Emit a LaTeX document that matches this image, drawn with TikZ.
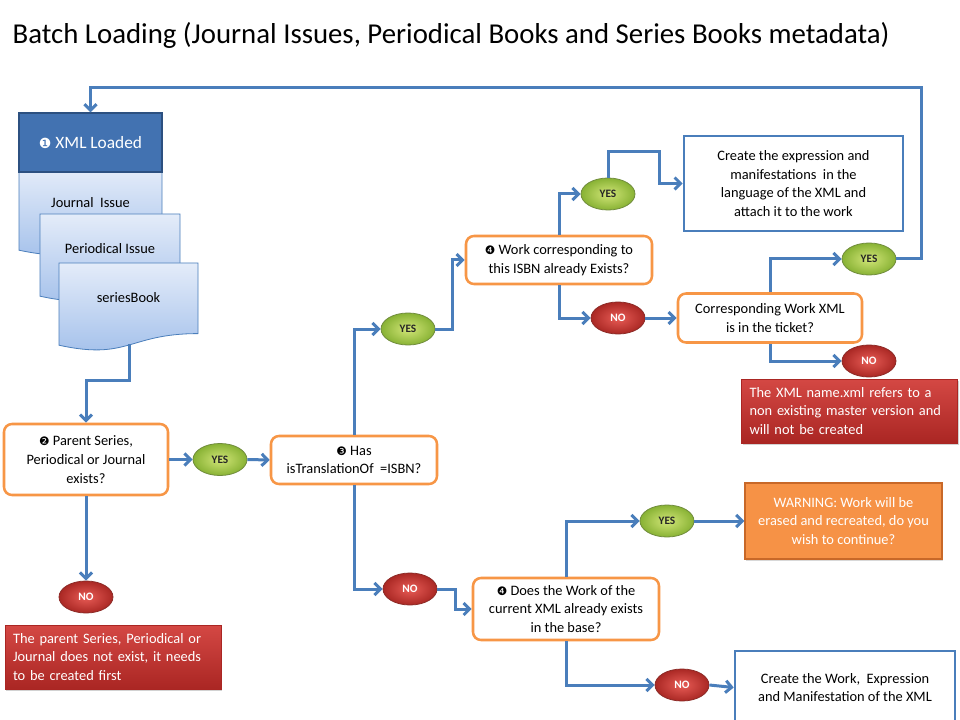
\documentclass[tikz,border=0pt]{standalone}
\usepackage{fontspec}
\setmainfont{Carlito}
\newfontfamily\dingfont{DejaVu Sans}
\usetikzlibrary{arrows.meta,shapes.geometric,shadows}
\definecolor{flowblue}{RGB}{74,126,187}
\definecolor{boxorange}{RGB}{247,150,70}
\definecolor{warnfill}{RGB}{246,146,70}
\definecolor{warnedge}{RGB}{200,104,40}
\definecolor{hdrfill}{RGB}{66,114,177}
\definecolor{hdredge}{RGB}{44,80,128}
\definecolor{doctop}{RGB}{228,236,249}
\definecolor{docbot}{RGB}{160,190,234}
\definecolor{yesin}{RGB}{210,230,120}
\definecolor{yesout}{RGB}{136,178,52}
\definecolor{yesedge}{RGB}{112,140,60}
\definecolor{noin}{RGB}{232,92,86}
\definecolor{noout}{RGB}{170,40,36}
\definecolor{noedge}{RGB}{140,42,38}
\definecolor{errtop}{RGB}{212,72,68}
\definecolor{errbot}{RGB}{170,38,35}
\newcommand\dingnum[1]{{\dingfont\fontsize{8.8}{10}\selectfont#1}}

\begin{document}
\begin{tikzpicture}[x=0.75pt, y=-0.75pt, >={Straight Barb[length=4.5pt,width=9pt]},
    flow/.style={->, flowblue, line width=2.25pt},
    txt/.style={font=\fontsize{10.8}{14}\selectfont},
    decision/.style={txt, draw=boxorange, line width=1.9pt, rounded corners=6pt, fill=white, align=center, inner sep=0pt},
    action/.style={txt, draw=flowblue, line width=1.9pt, fill=white, align=center, inner sep=0pt},
    yesball/.style={ellipse, draw=yesedge, line width=0.6pt, inner color=yesin, outer color=yesout, minimum width=40.5pt, minimum height=24pt, inner sep=0pt, font=\fontsize{8.5}{10}\selectfont\bfseries, text=black!85},
    noball/.style={yesball, draw=noedge, inner color=noin, outer color=noout, text=white},
    errbox/.style={txt, top color=errtop, bottom color=errbot, draw=errbot, text=white, align=left, text width=150pt, inner xsep=6pt, minimum height=48pt, drop shadow={opacity=0.35, shadow xshift=1pt, shadow yshift=-1.5pt}}]
    \useasboundingbox (0,0) rectangle (960,720);
    \clip (0,0) rectangle (960,720);
    \fill[white] (0,0) rectangle (960,720);
    \node[anchor=west, font=\fontsize{21.6}{25}\selectfont] (title) at (8,35) {Batch Loading (Journal Issues, Periodical Books and Series Books metadata)};

    \foreach \l/\t/\r/\i/\name in {19/168/162/1/Journal\ \ Issue, 40/214/180/2/Periodical Issue, 59/263/198/3/seriesBook} {
        \draw[flowblue, line width=0.6pt, top color=doctop, bottom color=docbot]
            (\l,\t) -- (\r,\t) -- (\r,\t+70.6) .. controls ({(\l+\r)/2},\t+70.6) and ({(\l+\r)/2},\t+97.5) .. (\l,\t+82.2) -- cycle;
        \node[txt] (doc\i) at ({(\l+\r)/2},\t+35) {\name};
    }
    \node[fill=hdrfill, draw=hdredge, line width=1pt, minimum width=107.25pt, minimum height=44.25pt, text=white, font=\fontsize{13}{15}\selectfont] (xml) at (90.5,142.5) {{\dingfont\fontsize{10.5}{12}\selectfont ❶} XML Loaded};
    \coordinate (sbout) at (129,344);

    \node[decision, minimum width=123pt, minimum height=53.25pt] (par) at (86,459.5) {\dingnum{❷} Parent Series,\\ Periodical or Journal\\ exists?};
    \node[yesball] (yes1) at (220,459.5) {YES};
    \node[decision, minimum width=124.5pt, minimum height=36pt] (trans) at (354,460) {\dingnum{❸} Has\\ isTranslationOf\ \ =ISBN?};
    \node[noball] (no1) at (86,597) {NO};
    \node[errbox] (errpar) at (113,657) {The parent Series, Periodical or\\ Journal does not exist, it needs\\ to be created first};

    \node[yesball] (yes2) at (408,329) {YES};
    \node[decision, minimum width=139.5pt, minimum height=36pt] (work) at (559,260) {\dingnum{❹} Work corresponding to\\ this ISBN already Exists?};
    \node[yesball] (yes3) at (608,194) {YES};
    \node[action, minimum width=164.25pt, minimum height=71.25pt] (expr) at (793.5,183.5) {Create the expression and\\ manifestations\ \ in the\\ language of the XML and\\ attach it to the work};
    \node[noball] (no2) at (618,318) {NO};
    \node[decision, minimum width=138pt, minimum height=36.75pt] (ticket) at (770,318) {Corresponding Work XML\\ is in the ticket?};
    \node[yesball] (yes4) at (869,259) {YES};
    \node[noball] (no3) at (869,361) {NO};
    \node[errbox] (errmaster) at (849.5,411) {The XML name.xml refers to a\\ non existing master version and\\ will not be created};

    \node[noball] (no4) at (410,589) {NO};
    \node[decision, minimum width=139.5pt, minimum height=46.5pt] (base) at (566,609) {\dingnum{❹} Does the Work of the\\ current XML already exists\\ in the base?};
    \node[yesball] (yes5) at (667,521) {YES};
    \node[txt, fill=warnfill, draw=warnedge, line width=1pt, text=white, align=center, minimum width=147.75pt, minimum height=57pt, drop shadow={opacity=0.3, shadow xshift=1pt, shadow yshift=-1.5pt}] (warn) at (843.5,521) {WARNING: Work will be\\ erased and recreated, do you\\ wish to continue?};
    \node[noball] (no5) at (682,685) {NO};
    \node[action, minimum width=165pt, minimum height=54.75pt] (newwork) at (845,687.5) {Create the Work,\ \ Expression\\ and Manifestation of the XML};

    \draw[flow] (sbout) -- ++(0,36) -| (par.north);
    \draw[flow] (par.east) -- (yes1.west);
    \draw[flow] (yes1.east) -- (trans.west);
    \draw[flow] (par.south) -- (no1.north);
    \draw[flow] (trans.north) |- (yes2.west);
    \draw[flow] (yes2.east) -- ++(17,0) |- (work.west);
    \draw[flow] (work.north) |- (yes3.west);
    \draw[flow] (yes3.north) |- ++(51,-26) |- (expr.west);
    \draw[flow] (work.south) |- (no2.west);
    \draw[flow] (no2.east) -- (ticket.west);
    \draw[flow] (ticket.north) |- (yes4.west);
    \draw[flow] (ticket.south) |- (no3.west);
    \draw[flow] (yes4.east) -- ++(25,0) |- ([yshift=18.75pt]xml.north) -- (xml.north);
    \draw[flow] (trans.south) |- (no4.west);
    \draw[flow] (no4.east) -- ++(18,0) |- (base.west);
    \draw[flow] (base.north) |- (yes5.west);
    \draw[flow] (yes5.east) -- (warn.west);
    \draw[flow] (base.south) |- (no5.west);
    \draw[flow] (no5.east) -- (newwork.west);
\end{tikzpicture}
\end{document}
